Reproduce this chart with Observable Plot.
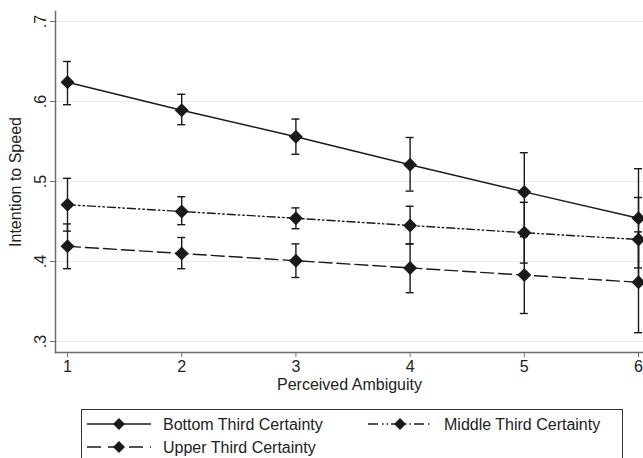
<!DOCTYPE html>
<html>
<head>
<meta charset="utf-8">
<script src="https://cdn.jsdelivr.net/npm/d3@7"></script>
<script src="https://cdn.jsdelivr.net/npm/@observablehq/plot@0.6"></script>
<style>
  html, body { margin: 0; padding: 0; background: #fff; overflow: hidden; }
  #wrap { position: relative; width: 643px; height: 458px; font-family: "Liberation Sans", Arial, Helvetica, sans-serif; }
  #legend { position: absolute; left: 81px; top: 409px; }
</style>
</head>
<body>
<div id="wrap"><div id="chart"></div><div id="legend"></div></div>
<script>
const ambiguity = [1, 2, 3, 4, 5, 6];
const seriesNames = ["Bottom Third Certainty", "Middle Third Certainty", "Upper Third Certainty"];
const bottomMean = [0.624, 0.589, 0.556, 0.521, 0.487, 0.454];
const bottomLo   = [0.596, 0.571, 0.534, 0.488, 0.438, 0.392];
const bottomHi   = [0.650, 0.609, 0.578, 0.555, 0.536, 0.516];
const middleMean = [0.471, 0.4625, 0.454, 0.445, 0.436, 0.4275];
const middleLo   = [0.438, 0.446, 0.441, 0.422, 0.398, 0.375];
const middleHi   = [0.504, 0.481, 0.467, 0.469, 0.474, 0.480];
const upperMean  = [0.419, 0.410, 0.401, 0.392, 0.383, 0.374];
const upperLo    = [0.391, 0.391, 0.380, 0.361, 0.335, 0.311];
const upperHi    = [0.447, 0.430, 0.422, 0.422, 0.431, 0.437];
const yTicks = [0.3, 0.4, 0.5, 0.6, 0.7];
const xTitle = "Perceived Ambiguity";
const yTitle = "Intention to Speed";

const dashes = ["none", "8,3,1.5,3,1.5,3", "13,5"];
const ink = "#1a1a1a";
const fs = 16;
const fontFamily = '"Liberation Sans", Arial, Helvetica, sans-serif';

const groups = [
  [bottomMean, bottomLo, bottomHi],
  [middleMean, middleLo, middleHi],
  [upperMean, upperLo, upperHi]
];
const data = [];
groups.forEach(([m, lo, hi], s) => {
  ambiguity.forEach((x, i) => data.push({series: seriesNames[s], x, y: m[i], lo: lo[i], hi: hi[i]}));
});

const capHalf = 0.035;
const marks = [
  Plot.gridY(yTicks, {stroke: "#ececec", strokeOpacity: 1, strokeWidth: 1}),
  Plot.frame({anchor: "left", stroke: "#6e6e6e", strokeWidth: 1.5}),
  Plot.frame({anchor: "bottom", stroke: "#6e6e6e", strokeWidth: 1.5}),
  Plot.axisY(yTicks, {tickSize: 5, tickPadding: 5, tickRotate: -90, stroke: "#6e6e6e",
    tickFormat: d => d.toFixed(1).replace(/^0/, ""), fontSize: fs, fill: "#222", label: null}),
  Plot.axisX(ambiguity, {tickSize: 5, tickPadding: 3, stroke: "#6e6e6e", tickFormat: d => String(d),
    fontSize: fs, fill: "#222", label: null}),
  Plot.text([xTitle], {frameAnchor: "bottom", dy: 32, lineAnchor: "middle", textAnchor: "middle", fontSize: fs, fill: "#222"}),
  Plot.text([yTitle], {frameAnchor: "left", dx: -40, rotate: -90, lineAnchor: "middle", textAnchor: "middle", fontSize: fs, fill: "#222"})
];
seriesNames.forEach((name, s) => {
  const d = data.filter(r => r.series === name);
  marks.push(Plot.line(d, {x: "x", y: "y", stroke: ink, strokeWidth: 1.4, strokeDasharray: dashes[s] === "none" ? null : dashes[s]}));
});
marks.push(
  Plot.ruleX(data, {x: "x", y1: "lo", y2: "hi", stroke: ink, strokeWidth: 1.4}),
  Plot.ruleY(data, {y: "lo", x1: d => d.x - capHalf, x2: d => d.x + capHalf, stroke: ink, strokeWidth: 1.4}),
  Plot.ruleY(data, {y: "hi", x1: d => d.x - capHalf, x2: d => d.x + capHalf, stroke: ink, strokeWidth: 1.4}),
  Plot.dot(data, {x: "x", y: "y", symbol: "diamond2", fill: ink, stroke: "none", r: 6.3})
);

const chart = Plot.plot({
  width: 643,
  height: 395,
  marginTop: 11,
  marginBottom: 43,
  marginLeft: 55,
  marginRight: 0,
  style: {fontFamily, overflow: "visible"},
  x: {domain: [1 - 12 / 114.2, 6 + 5 / 114.2]},
  y: {domain: [0.3 - 11 / 800, 0.7 + 10 / 800]},
  marks
});
document.getElementById("chart").appendChild(chart);

// Legend
const W = 542, H = 60;
const lsvg = d3.create("svg").attr("width", W).attr("height", H).style("display", "block");
lsvg.append("rect").attr("x", 0.5).attr("y", 0.5).attr("width", W - 1).attr("height", H + 10)
  .attr("fill", "white").attr("stroke", "#333").attr("stroke-width", 1);
const slots = [
  {sx: 6, sy: 15},
  {sx: 287, sy: 15},
  {sx: 6, sy: 38}
];
seriesNames.forEach((name, s) => {
  const {sx, sy} = slots[s];
  const g = lsvg.append("g").attr("transform", `translate(${sx},${sy})`);
  g.append("line").attr("x1", 0).attr("x2", 64).attr("y1", 0).attr("y2", 0)
    .attr("stroke", ink).attr("stroke-width", 1.4)
    .attr("stroke-dasharray", dashes[s] === "none" ? null : (s === 1 ? "10,4,1.5,3,1.5,3" : "14,7"));
  g.append("path").attr("d", "M32,-6L38,0L32,6L26,0Z").attr("fill", ink);
  g.append("text").attr("x", 76).attr("y", 0).attr("dy", "0.35em")
    .attr("font-size", fs).attr("fill", "#222")
    .attr("font-family", fontFamily)
    .text(name);
});
document.getElementById("legend").appendChild(lsvg.node());
</script>
</body>
</html>
